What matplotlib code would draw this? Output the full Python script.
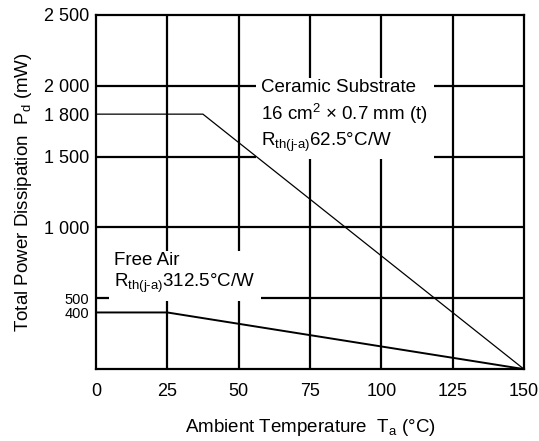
import matplotlib.pyplot as plt

plt.rcParams['font.family'] = ['Liberation Sans', 'DejaVu Sans']
plt.rcParams['mathtext.fontset'] = 'custom'
plt.rcParams['mathtext.rm'] = 'Liberation Sans'
plt.rcParams['mathtext.it'] = 'Liberation Sans'

# データ (読み取り値)
temp_ceramic = [0, 37.5, 150]
power_ceramic = [1800, 1800, 0]
temp_air = [0, 25, 150]
power_air = [400, 400, 0]

x_ticks = [0, 25, 50, 75, 100, 125, 150]
y_ticks = [400, 500, 1000, 1500, 1800, 2000, 2500]
y_tick_labels = ['400', '500', '1 000', '1 500', '1 800', '2 000', '2 500']
x_grid = [25, 50, 75, 100, 125]
y_grid = [500, 1000, 1500, 2000]

fig = plt.figure(figsize=(5.39, 4.41), dpi=100)
ax = fig.add_axes([0.178, 0.163, 0.794, 0.803])

for x in x_grid:
    ax.axvline(x, color='black', lw=1.6, zorder=1)
for y in y_grid:
    ax.axhline(y, color='black', lw=1.6, zorder=1)

ax.plot(temp_ceramic, power_ceramic, color='black', lw=0.9, zorder=4)
ax.plot(temp_air, power_air, color='black', lw=1.4, zorder=4)

ax.set_xlim(0, 150)
ax.set_ylim(0, 2500)
ax.set_xticks(x_ticks)
ax.set_yticks(y_ticks)
ax.set_yticklabels(y_tick_labels)
ax.tick_params(length=0, labelsize=13)
ax.tick_params(axis='x', pad=10)
ax.tick_params(axis='y', pad=5)
# 400 と 500 は間隔が狭いので少し小さく
for lbl in ax.get_yticklabels()[:2]:
    lbl.set_fontsize(10.5)
for s in ax.spines.values():
    s.set_linewidth(1.6)

ax.set_xlabel(r'Ambient Temperature  T$_{\mathrm{a}}$ (°C)', fontsize=13.5, labelpad=12)
ax.set_ylabel(r'Total Power Dissipation  P$_{\mathrm{d}}$ (mW)', fontsize=13.5, labelpad=7)

box = dict(facecolor='white', edgecolor='none', pad=4)
ax.text(58, 2045,
        'Ceramic Substrate\n16 cm$^{2}$ × 0.7 mm (t)\nR$_{\\mathrm{th(j\\text{-}a)}}$62.5°C/W',
        fontsize=13.5, va='top', ha='left', linespacing=1.3, bbox=box, zorder=3)
ax.text(6.5, 825, 'Free Air\nR$_{\\mathrm{th(j\\text{-}a)}}$312.5°C/W',
        fontsize=13.5, va='top', ha='left', linespacing=1.2, bbox=box, zorder=3)

fig.savefig('out.png', dpi=100)
